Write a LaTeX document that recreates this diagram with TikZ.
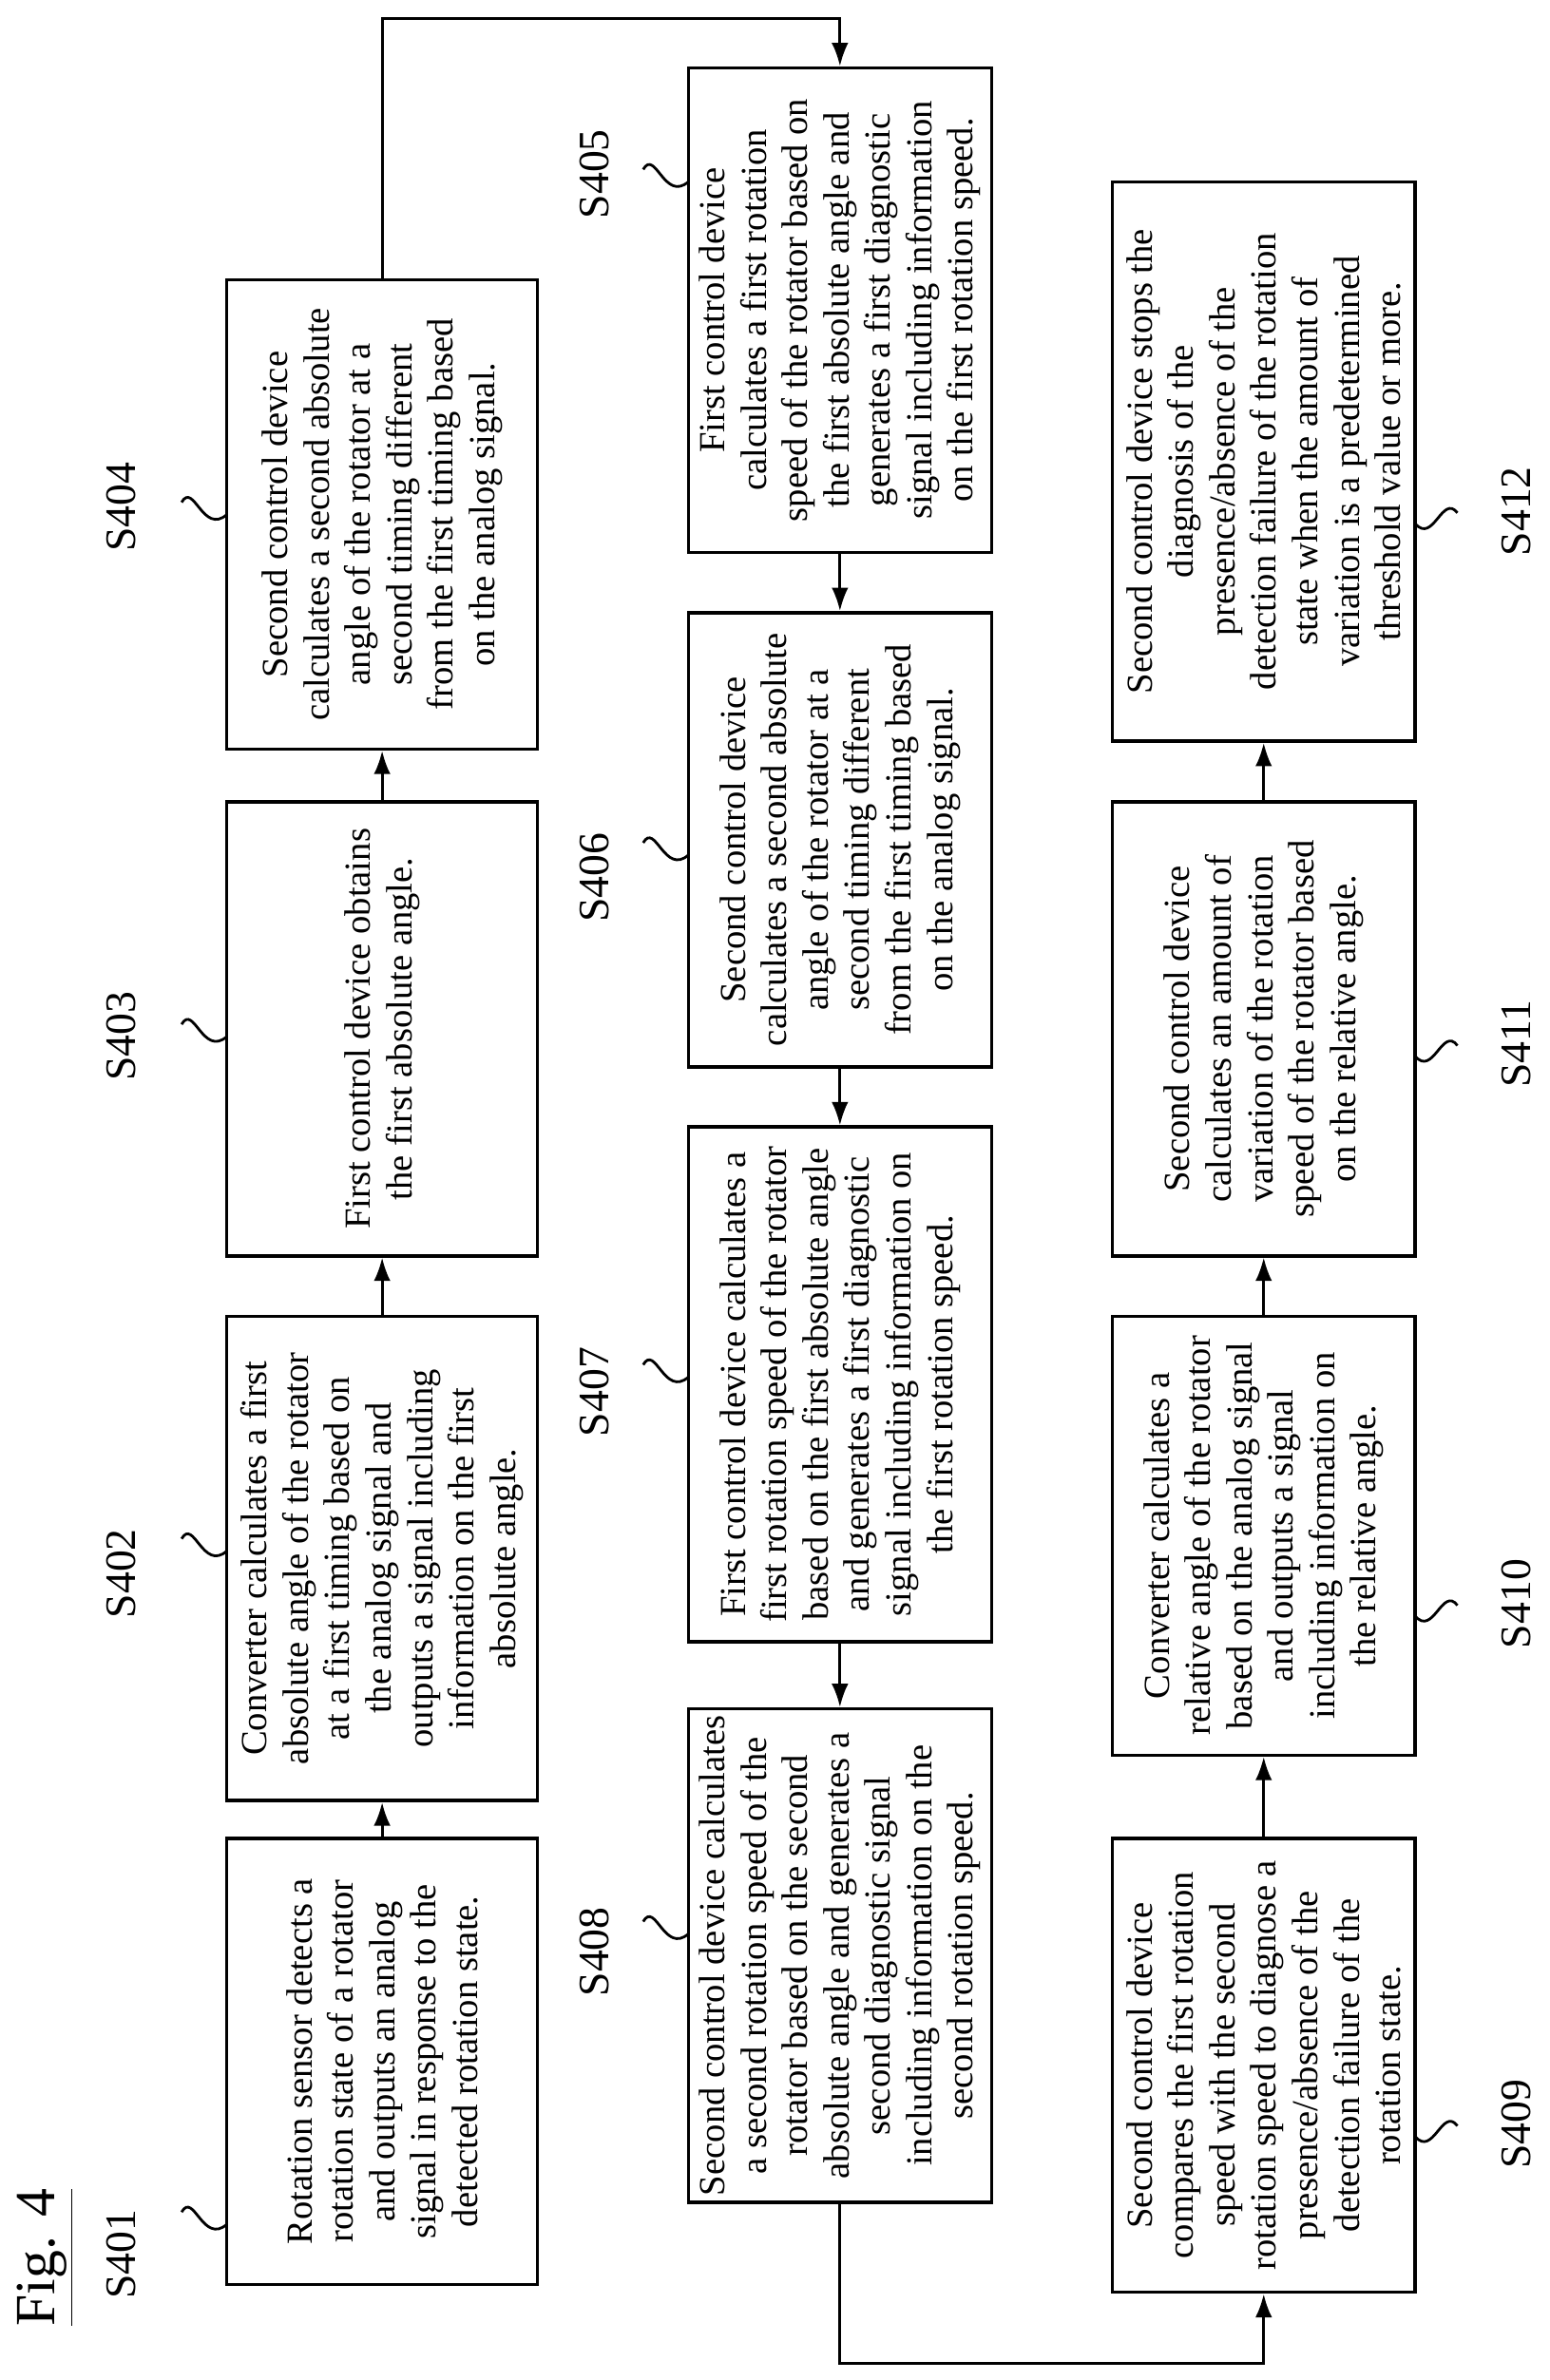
\documentclass[tikz,border=0pt]{standalone}
\usepackage{fontspec}
\setmainfont{Liberation Serif}
\usetikzlibrary{arrows.meta}
\begin{document}
\begin{tikzpicture}[x=0.01593cm,y=-0.01593cm,
  box/.style={draw,line width=1pt,rotate=90,align=center,inner sep=2pt,font=\fontsize{11}{12.4}\selectfont},
  lab/.style={rotate=90,font=\fontsize{13}{14}\selectfont},
  arr/.style={line width=0.8pt,-{Latex[length=7pt,width=5pt]}},
  sq/.style={line width=0.8pt}]
\useasboundingbox (0,0) rectangle (1024,1573);
% column 1
\node[box,minimum width=4.70cm,minimum height=3.27cm] (s401) at (252.5,1362.5) {Rotation sensor detects a\\rotation state of a rotator\\and outputs an analog\\signal in response to the\\detected rotation state.};
\node[box,minimum width=5.10cm,minimum height=3.27cm] (s402) at (252.5,1030) {Converter calculates a first\\absolute angle of the rotator\\at a first timing based on\\the analog signal and\\outputs a signal including\\information on the first\\absolute angle.};
\node[box,minimum width=4.78cm,minimum height=3.27cm] (s403) at (252.5,680) {First control device obtains\\the first absolute angle.};
\node[box,minimum width=4.94cm,minimum height=3.27cm] (s404) at (252.5,340) {Second control device\\calculates a second absolute\\angle of the rotator at a\\second timing different\\from the first timing based\\on the analog signal.};
% column 2
\node[box,minimum width=5.10cm,minimum height=3.19cm] (s405) at (555,205) {First control device\\calculates a first rotation\\speed of the rotator based on\\the first absolute angle and\\generates a first diagnostic\\signal including information\\on the first rotation speed.};
\node[box,minimum width=4.78cm,minimum height=3.19cm] (s406) at (555,555) {Second control device\\calculates a second absolute\\angle of the rotator at a\\second timing different\\from the first timing based\\on the analog signal.};
\node[box,minimum width=5.42cm,minimum height=3.19cm] (s407) at (555,915) {First control device calculates a\\first rotation speed of the rotator\\based on the first absolute angle\\and generates a first diagnostic\\signal including information on\\the first rotation speed.};
\node[box,minimum width=5.18cm,minimum height=3.19cm] (s408) at (555,1292.5) {Second control device calculates\\a second rotation speed of the\\rotator based on the second\\absolute angle and generates a\\second diagnostic signal\\including information on the\\second rotation speed.};
% column 3
\node[box,minimum width=4.78cm,minimum height=3.19cm] (s409) at (835,1365) {Second control device\\compares the first rotation\\speed with the second\\rotation speed to diagnose a\\presence/absence of the\\detection failure of the\\rotation state.};
\node[box,minimum width=4.62cm,minimum height=3.19cm] (s410) at (835,1015) {Converter calculates a\\relative angle of the rotator\\based on the analog signal\\and outputs a signal\\including information on\\the relative angle.};
\node[box,minimum width=4.78cm,minimum height=3.19cm] (s411) at (835,680) {Second control device\\calculates an amount of\\variation of the rotation\\speed of the rotator based\\on the relative angle.};
\node[box,minimum width=5.89cm,minimum height=3.19cm] (s412) at (835,305) {Second control device stops the\\diagnosis of the\\presence/absence of the\\detection failure of the rotation\\state when the amount of\\variation is a predetermined\\threshold value or more.};
% arrows
\draw[arr] (s401.east) -- (s402.west);
\draw[arr] (s402.east) -- (s403.west);
\draw[arr] (s403.east) -- (s404.west);
\coordinate (c1) at (400,12);
\draw[arr] (s404.east) |- (c1) -| (s405.east);
\draw[arr] (s405.west) -- (s406.east);
\draw[arr] (s406.west) -- (s407.east);
\draw[arr] (s407.west) -- (s408.east);
\coordinate (c2) at (700,1562);
\draw[arr] (s408.west) |- (c2) -| (s409.west);
\draw[arr] (s409.east) -- (s410.west);
\draw[arr] (s410.east) -- (s411.west);
\draw[arr] (s411.east) -- (s412.west);
% labels
\node[lab] (l401) at (80,1490) {S401};
\node[lab] (l402) at (80,1040) {S402};
\node[lab] (l403) at (80,685) {S403};
\node[lab] (l404) at (80,335) {S404};
\node[lab] (l405) at (393,115) {S405};
\node[lab] (l406) at (393,580) {S406};
\node[lab] (l407) at (393,920) {S407};
\node[lab] (l408) at (393,1290) {S408};
\node[lab] (l409) at (1002,1404) {S409};
\node[lab] (l410) at (1002,1060) {S410};
\node[lab] (l411) at (1002,690) {S411};
\node[lab] (l412) at (1002,338) {S412};
% squiggles (left of boxes, ending at the box edge)
\foreach \x/\y in {150/1470,150/1025,150/685,150/340,455/120,455/565,455/910,455/1278}
  \draw[sq] (\x-30,\y-8) .. controls (\x-22,\y-22) and (\x-16,\y+14) .. (\x,\y);
% squiggles (right of boxes, starting at the box edge)
\foreach \x/\y in {935/1412,935/1068,935/698,935/346}
  \draw[sq] (\x,\y) .. controls (\x+12,\y+14) and (\x+18,\y-20) .. (\x+28,\y-7);
\node[rotate=90,font=\fontsize{17}{19}\selectfont] (fig) at (30,1492) {\underline{Fig. 4}};
\end{tikzpicture}
\end{document}
